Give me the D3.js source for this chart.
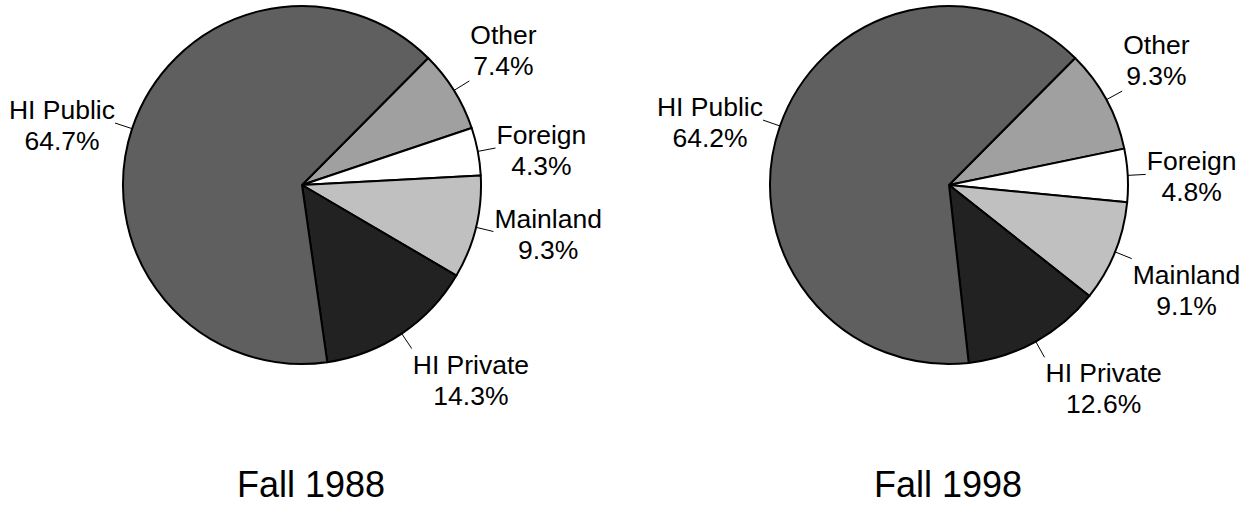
<!DOCTYPE html>
<html>
<head>
<meta charset="utf-8">
<script src="https://cdn.jsdelivr.net/npm/d3@7"></script>
<style>
  html, body { margin: 0; padding: 0; background: #fff; }
  svg { display: block; font-family: "Liberation Sans", Arial, sans-serif; }
</style>
</head>
<body>
<div id="chart"></div>
<script>
// Data
const categories = ["Other", "Foreign", "Mainland", "HI Private", "HI Public"];
const years = ["Fall 1988", "Fall 1998"];
const share1988 = [7.4, 4.3, 9.3, 14.3, 64.7];
const share1998 = [9.3, 4.8, 9.1, 12.6, 64.2];

// Layout
const width = 1251, height = 506;
const radius = 179;
const leaderLen = 18;
const fontSize = 26.5, lineH = 31;
const capH = 0.716 * fontSize;
const panels = [
  { title: years[0], values: share1988, cx: 302, cy: 185, titleX: 311 },
  { title: years[1], values: share1998, cx: 949, cy: 185, titleX: 948 }
];

// grays for each category
const color = d3.scaleOrdinal()
  .domain(categories)
  .range(["#a0a0a0", "#ffffff", "#c0c0c0", "#222222", "#5f5f5f"]);

const fmt = d => d3.format(".1f")(d) + "%";

// first slice (Other) starts at ~45 degrees, running clockwise
const start = 44.8 * Math.PI / 180;
const pie = d3.pie()
  .sort(null)
  .value(d => d.value)
  .startAngle(start)
  .endAngle(start + 2 * Math.PI);

const arc = d3.arc().innerRadius(0).outerRadius(radius);

const svg = d3.select("#chart").append("svg")
  .attr("width", width)
  .attr("height", height);

svg.append("rect").attr("width", width).attr("height", height).attr("fill", "#fff");

panels.forEach(function(p) {
  const data = categories.map((c, i) => ({ name: c, value: p.values[i] }));
  const arcs = pie(data);

  const g = svg.append("g")
    .attr("transform", "translate(" + p.cx + "," + p.cy + ")");

  g.selectAll("path.slice")
    .data(arcs)
    .enter().append("path")
      .attr("class", "slice")
      .attr("d", arc)
      .attr("fill", d => color(d.data.name))
      .attr("stroke", "#000")
      .attr("stroke-width", 2)
      .attr("stroke-linejoin", "round");

  // leader lines + labels
  arcs.forEach(function(a) {
    const mid = (a.startAngle + a.endAngle) / 2;
    const s = Math.sin(mid), c = Math.cos(mid);
    const x0 = radius * s, y0 = -radius * c;
    const x1 = (radius + leaderLen) * s, y1 = -(radius + leaderLen) * c;

    g.append("line")
      .attr("x1", x0).attr("y1", y0)
      .attr("x2", x1).attr("y2", y1)
      .attr("stroke", "#000")
      .attr("stroke-width", 1);

    const t = g.append("text")
      .attr("text-anchor", "middle")
      .style("font-size", fontSize + "px")
      .attr("fill", "#000");
    const l1 = t.append("tspan").text(a.data.name);
    const l2 = t.append("tspan").text(fmt(a.data.value));
    const w = Math.max(l1.node().getComputedTextLength(), l2.node().getComputedTextLength());

    const xc = s >= 0 ? x1 + 1 + w / 2 : x1 - w / 2;
    // vertical placement depends on where the slice points
    let base;
    if (c > 0.35) base = y1 - 6 - lineH;          // label sits above the line end
    else if (c < -0.35) base = y1 + 6 + capH;     // label hangs below the line end
    else base = y1 + 2 - (lineH + capH) / 2 + capH; // centred on the line end

    l1.attr("x", xc).attr("y", base);
    l2.attr("x", xc).attr("y", base + lineH);
  });

  svg.append("text")
    .attr("x", p.titleX)
    .attr("y", 497)
    .attr("text-anchor", "middle")
    .style("font-size", "36px")
    .attr("fill", "#000")
    .text(p.title);
});
</script>
</body>
</html>
